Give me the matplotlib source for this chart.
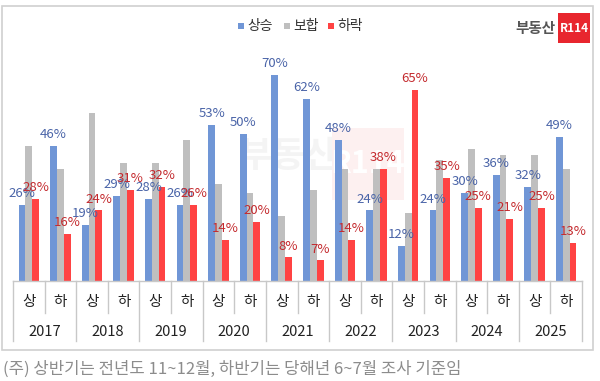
import matplotlib.pyplot as plt
import matplotlib.transforms as mtransforms
from matplotlib.patches import Rectangle
import numpy as np

plt.rcParams['font.family'] = ['Noto Sans CJK KR', 'DejaVu Sans']

years = ['2017', '2018', '2019', '2020', '2021', '2022', '2023', '2024', '2025']
halves = ['상', '하']
up = [26, 46, 19, 29, 28, 26, 53, 50, 70, 62, 48, 24, 12, 24, 30, 36, 32, 49]
flat = [46, 38, 57, 40, 40, 48, 33, 30, 22, 31, 38, 38, 23, 41, 45, 43, 43, 38]
down = [28, 16, 24, 31, 32, 26, 14, 20, 8, 7, 14, 38, 65, 35, 25, 21, 25, 13]

c_up = '#7096D6'
c_flat = '#BFBFBF'
c_down = '#FF4343'
t_up = '#4A64A8'
t_down = '#C42A2E'
line_c = '#C8C8C8'

W, H = 600, 381
fig = plt.figure(figsize=(6, 3.81), dpi=100)

# outer frame
fig.patches.append(Rectangle((2 / W, 1 - 350 / H), 591 / W, 344 / H, transform=fig.transFigure,
                             fill=False, edgecolor='#D0D0D0', linewidth=1.2))

base_y = 281
top_y = 40
ax = fig.add_axes([13 / W, 1 - base_y / H, 569 / W, (base_y - top_y) / H])
ax.set_xlim(-0.5, 17.5)
ax.set_ylim(0, (base_y - top_y) / 2.94)
ax.axis('off')

# faint watermark behind the bars
ftrans = fig.transFigure
ax.text(288 / W, 1 - 157 / H, '부동산', transform=ftrans, fontsize=26, color='#F4F4F4',
        fontweight='bold', ha='center', va='center', zorder=0)
ax.add_patch(Rectangle((332 / W, 1 - 200 / H), 72 / W, 72 / H, transform=ftrans,
                       facecolor='#FDF0F0', edgecolor='none', zorder=0))
ax.text(368 / W, 1 - 164 / H, 'R114', transform=ftrans, fontsize=22, color='#FFFFFF',
        fontweight='bold', ha='center', va='center', zorder=0.5)

x = np.arange(len(up))
bw = 0.215
ax.bar(x - bw, up, bw, color=c_up, zorder=2)
ax.bar(x, flat, bw, color=c_flat, zorder=2)
ax.bar(x + bw, down, bw, color=c_down, zorder=2)

for i in range(len(up)):
    ax.annotate(f'{up[i]}%', (x[i] - bw, up[i]), xytext=(0, 3.5), textcoords='offset points',
                ha='center', va='bottom', fontsize=9.5, color=t_up, zorder=3)
    ax.annotate(f'{down[i]}%', (x[i] + bw, down[i]), xytext=(0, 3.5), textcoords='offset points',
                ha='center', va='bottom', fontsize=9.5, color=t_down, zorder=3)

# baseline and separators
trans = mtransforms.blended_transform_factory(ax.transData, fig.transFigure)
ax.plot([-0.5, 17.5], [0, 0], color=line_c, linewidth=1, clip_on=False, zorder=3)
for k in range(len(up) + 1):
    xs = k - 0.5
    bottom = 341 if k % 2 == 0 else 313
    ax.plot([xs, xs], [1 - base_y / H, 1 - bottom / H], transform=trans,
            color=line_c, linewidth=1, clip_on=False)

for i in range(len(up)):
    ax.text(i, 1 - 302 / H, halves[i % 2], transform=trans, fontsize=10.5,
            ha='center', va='center', color='#222222')
for j, yr in enumerate(years):
    ax.text(2 * j + 0.5, 1 - 332 / H, yr, transform=trans, fontsize=10.5,
            ha='center', va='center', color='#222222')

# legend
leg_y = 1 - 26 / H
for lx, lab, col in [(238, '상승', c_up), (284, '보합', c_flat), (328, '하락', c_down)]:
    fig.patches.append(Rectangle((lx / W, leg_y - 3 / H), 6 / W, 6 / H,
                                 transform=fig.transFigure, facecolor=col, edgecolor='none'))
    fig.text((lx + 9) / W, leg_y, lab, fontsize=10, ha='left', va='center', color='#333333')

# logo
fig.text(556 / W, 1 - 28 / H, '부동산', fontsize=10.5, fontweight='bold', color='#555555',
         ha='right', va='center')
fig.patches.append(Rectangle((558 / W, 1 - 43 / H), 32 / W, 30 / H, transform=fig.transFigure,
                             facecolor='#E8262E', edgecolor='none'))
fig.text(574 / W, 1 - 28 / H, 'R114', fontsize=8.5, fontweight='bold', color='white',
         ha='center', va='center')

# footnote
fig.text(3 / W, 1 - 369 / H, '(주) 상반기는 전년도 11~12월, 하반기는 당해년 6~7월 조사 기준임',
         fontsize=12, color='#8C8C8C', ha='left', va='center')

fig.savefig('out.png', dpi=100)
